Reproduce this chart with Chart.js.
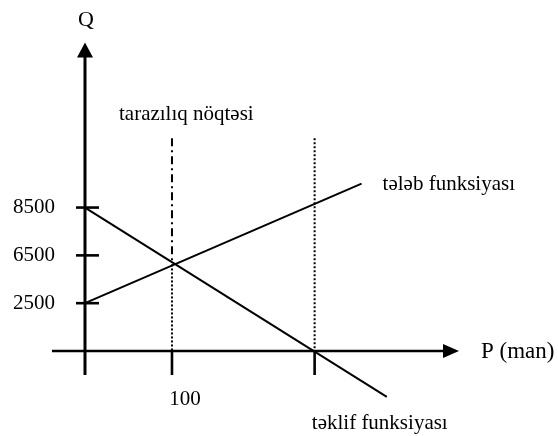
<!DOCTYPE html>
<html><head><meta charset="utf-8">
<script src="https://cdn.jsdelivr.net/npm/chart.js@4.4.1/dist/chart.umd.min.js"></script>
<style>html,body{margin:0;padding:0;background:#fff}canvas{display:block}</style>
</head><body>
<canvas id="c" width="558" height="436"></canvas>
<script>
// ---- data ----
const qTicks = [0, 2500, 6500, 8500];          // Q tick values (evenly spaced in the drawing)
const qTickLabels = ["", "2500", "6500", "8500"];
const priceTicks = [100, 264];                 // P tick values
const priceTickLabels = ["100", ""];
const demandP = [0, 318];                      // "tələb funksiyası"
const demandQ = [2500, 9500];
const supplyP = [0, 347];                      // "təklif funksiyası"
const supplyQ = [8500, -2400];
const eqP = 100;                               // tarazılıq nöqtəsi
const eqQ = 5740;
const crossP = 264;                            // where supply meets the P axis
const guideTopQ = 11400;                       // top of the vertical guide lines
const axisTitles = { q: "Q", p: "P (man)" };
const curveNames = { eq: "tarazılıq nöqtəsi", demand: "tələb funksiyası", supply: "təklif funksiyası" };

// the Q axis of the drawing is schematic: ticks are evenly spaced
function toLevel(q) {
  if (q <= qTicks[1]) return q / (qTicks[1] - qTicks[0]);
  for (let i = 1; i < qTicks.length - 1; i++) {
    if (q <= qTicks[i + 1]) return i + (q - qTicks[i]) / (qTicks[i + 1] - qTicks[i]);
  }
  const n = qTicks.length - 1;
  return n + (q - qTicks[n]) / (qTicks[n] - qTicks[n - 1]);
}
const pts = (ps, qs) => ps.map((p, i) => ({ x: p, y: toLevel(qs[i]) }));

const FONT = "'Liberation Serif','Times New Roman',serif";
Chart.defaults.font.family = FONT;
Chart.defaults.color = '#000';

function seg(ctx, x1, y1, x2, y2) { ctx.beginPath(); ctx.moveTo(x1, y1); ctx.lineTo(x2, y2); ctx.stroke(); }
function tri(ctx, a, b, c) { ctx.beginPath(); ctx.moveTo(a[0], a[1]); ctx.lineTo(b[0], b[1]); ctx.lineTo(c[0], c[1]); ctx.closePath(); ctx.fill(); }

const axesPlugin = {
  id: 'axesPlugin',
  afterDraw(chart) {
    const { ctx, scales: { x, y } } = chart;
    const x0 = x.getPixelForValue(0), y0 = y.getPixelForValue(0);
    const xLeft = x.getPixelForValue(-38), xTip = x.getPixelForValue(x.max);
    const yTip = y.getPixelForValue(y.max), yLow = y.getPixelForValue(-0.5);
    ctx.save();
    ctx.strokeStyle = '#000'; ctx.fillStyle = '#000'; ctx.lineCap = 'butt';
    // Q axis with arrow
    ctx.lineWidth = 3;
    seg(ctx, x0, yLow, x0, yTip + 12);
    tri(ctx, [x0, yTip], [x0 - 8, yTip + 15], [x0 + 8, yTip + 15]);
    // P axis with arrow
    ctx.lineWidth = 2.7;
    seg(ctx, xLeft, y0, xTip - 12, y0);
    tri(ctx, [xTip, y0], [xTip - 16, y0 - 7], [xTip - 16, y0 + 7]);
    // tick marks
    ctx.lineWidth = 2.6;
    y.ticks.forEach((t, i) => {
      if (!qTickLabels[i]) return;
      const py = y.getPixelForValue(t.value);
      seg(ctx, x0 - 9, py, x0 + 14, py);
    });
    x.ticks.forEach(t => {
      const px = x.getPixelForValue(t.value);
      seg(ctx, px, y0, px, y0 + 24);
    });
    // texts
    ctx.textBaseline = 'alphabetic';
    ctx.font = "22px " + FONT;
    ctx.textAlign = 'center';
    ctx.fillText(axisTitles.q, x0 + 1, yTip - 17);
    ctx.textAlign = 'left';
    ctx.font = "23px " + FONT;
    ctx.fillText(axisTitles.p, xTip + 22, y0 + 7);
    ctx.font = "21px " + FONT;
    const gTop = y.getPixelForValue(toLevel(guideTopQ));
    ctx.fillText(curveNames.eq, x.getPixelForValue(eqP) - 53, gTop - 18);
    const dEnd = [x.getPixelForValue(demandP[1]), y.getPixelForValue(toLevel(demandQ[1]))];
    ctx.fillText(curveNames.demand, dEnd[0] + 21, dEnd[1] + 6);
    const sEnd = [x.getPixelForValue(supplyP[1]), y.getPixelForValue(toLevel(supplyQ[1]))];
    ctx.fillText(curveNames.supply, sEnd[0] - 75, sEnd[1] + 32);
    ctx.restore();
  }
};

const lineDs = (data, extra) => Object.assign({
  data, showLine: true, borderColor: '#000', backgroundColor: '#000',
  borderWidth: 2, pointRadius: 0, clip: false, tension: 0
}, extra || {});

new Chart(document.getElementById('c'), {
  type: 'scatter',
  data: {
    datasets: [
      lineDs(pts(demandP, demandQ), { label: curveNames.demand }),
      lineDs(pts(supplyP, supplyQ), { label: curveNames.supply }),
      lineDs([{ x: eqP, y: toLevel(guideTopQ) }, { x: eqP, y: toLevel(eqQ) }],
             { label: curveNames.eq, borderDash: [8, 4, 2, 4], borderWidth: 2 }),
      lineDs([{ x: eqP, y: toLevel(eqQ) }, { x: eqP, y: 0 }],
             { label: 'eq-below', borderDash: [2, 2], borderWidth: 2 }),
      lineDs([{ x: crossP, y: toLevel(guideTopQ) }, { x: crossP, y: 0 }],
             { label: 'cross', borderDash: [2, 2], borderWidth: 2 })
    ]
  },
  options: {
    responsive: false,
    animation: false,
    events: [],
    layout: { padding: { left: 0, top: 41, right: 99, bottom: 0 } },
    plugins: { legend: { display: false }, tooltip: { enabled: false } },
    scales: {
      x: {
        type: 'linear', min: 0, max: 430,
        border: { display: false },
        grid: { display: false, drawTicks: false },
        afterFit(s) { s.height = 85; },
        afterBuildTicks(s) { s.ticks = priceTicks.map(v => ({ value: v })); },
        ticks: {
          autoSkip: false, maxRotation: 0, padding: 36, labelOffset: 13,
          font: { size: 21 }, color: '#000',
          callback: (v, i) => priceTickLabels[i]
        }
      },
      y: {
        type: 'linear', min: 0, max: 6.45,
        border: { display: false },
        grid: { display: false, drawTicks: false },
        afterFit(s) { s.width = 85; },
        afterBuildTicks(s) { s.ticks = qTicks.map(q => ({ value: toLevel(q) })); },
        ticks: {
          autoSkip: false, padding: 30,
          font: { size: 21 }, color: '#000',
          callback: (v, i) => qTickLabels[i]
        }
      }
    }
  },
  plugins: [axesPlugin]
});
</script>
</body></html>
